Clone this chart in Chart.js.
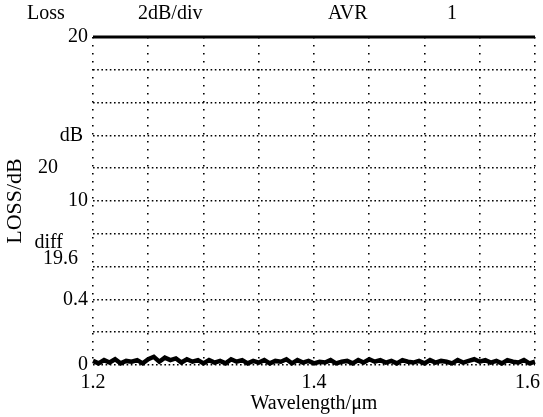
<!DOCTYPE html>
<html>
<head>
<meta charset="utf-8">
<script src="https://cdn.jsdelivr.net/npm/chart.js@4"></script>
<style>
  html, body { margin: 0; padding: 0; background: #fff; }
  #wrap { width: 543px; height: 417px; }
</style>
</head>
<body>
<div id="wrap"><canvas id="c" width="543" height="417"></canvas></div>
<script>
// wavelength samples (um) and the measured loss (dB) at each one
const wavelengths = [
  1.200, 1.205, 1.210, 1.215, 1.220, 1.225, 1.230, 1.235, 1.240, 1.245,
  1.250, 1.255, 1.260, 1.265, 1.270, 1.275, 1.280, 1.285, 1.290, 1.295,
  1.300, 1.305, 1.310, 1.315, 1.320, 1.325, 1.330, 1.335, 1.340, 1.345,
  1.350, 1.355, 1.360, 1.365, 1.370, 1.375, 1.380, 1.385, 1.390, 1.395,
  1.400, 1.405, 1.410, 1.415, 1.420, 1.425, 1.430, 1.435, 1.440, 1.445,
  1.450, 1.455, 1.460, 1.465, 1.470, 1.475, 1.480, 1.485, 1.490, 1.495,
  1.500, 1.505, 1.510, 1.515, 1.520, 1.525, 1.530, 1.535, 1.540, 1.545,
  1.550, 1.555, 1.560, 1.565, 1.570, 1.575, 1.580, 1.585, 1.590, 1.595,
  1.600
];
const lossTrace = [
  0.25, 0.10, 0.30, 0.15, 0.35, 0.10, 0.25, 0.20, 0.30, 0.10,
  0.35, 0.50, 0.20, 0.45, 0.30, 0.40, 0.15, 0.35, 0.20, 0.30,
  0.10, 0.30, 0.15, 0.25, 0.10, 0.35, 0.20, 0.30, 0.10, 0.25,
  0.15, 0.30, 0.10, 0.25, 0.20, 0.35, 0.10, 0.30, 0.15, 0.25,
  0.10, 0.20, 0.15, 0.30, 0.10, 0.20, 0.25, 0.10, 0.30, 0.15,
  0.35, 0.20, 0.30, 0.15, 0.25, 0.10, 0.30, 0.20, 0.15, 0.25,
  0.10, 0.30, 0.15, 0.25, 0.20, 0.10, 0.30, 0.15, 0.25, 0.35,
  0.20, 0.30, 0.15, 0.25, 0.10, 0.30, 0.20, 0.15, 0.30, 0.10,
  0.20
];
// reference trace pinned at the top of the screen
const refWavelengths = [1.2, 1.6];
const refLevel = [20, 20];

const xTickLabels = { 1.2: '1.2', 1.4: '1.4', 1.6: '1.6' };
// screen annotations read along the left edge (value -> text)
const yTickValues = [0, 2, 4, 6, 6.45, 7.45, 8, 10, 12, 14, 16, 18, 20];
const yTickText = { 0: '0', 4: '0.4', 6.45: '19.6', 7.45: 'diff', 10: '10', 12: '20', 14: 'dB', 20: '20' };
const headerTexts = ['Loss', '2dB/div', 'AVR', '1'];

const FONT = "'Liberation Serif', 'Times New Roman', serif";

// some labels on the scan sit further left than the others
const yIndent = { 12: 6, 7.45: 5, 6.45: 2, 14: 1 };
// last x label is pulled in so it stays on the page
const xIndent = { 1.6: 3 };

const headerPlugin = {
  id: 'header',
  afterDraw(chart) {
    const ctx = chart.ctx;
    const xs = [27, 138, 328, 447];
    ctx.save();
    ctx.fillStyle = '#000';
    ctx.font = '20px ' + FONT;
    ctx.textBaseline = 'middle';
    ctx.textAlign = 'left';
    headerTexts.forEach((t, i) => ctx.fillText(t, xs[i], 14));
    ctx.restore();
  }
};

new Chart(document.getElementById('c'), {
  type: 'line',
  data: {
    datasets: [
      {
        label: 'Loss',
        data: wavelengths.map((w, i) => ({ x: w, y: lossTrace[i] })),
        borderColor: '#000',
        borderWidth: 4.5,
        pointRadius: 0,
        tension: 0,
        clip: 6,
      },
      {
        label: 'Ref',
        data: refWavelengths.map((w, i) => ({ x: w, y: refLevel[i] })),
        borderColor: '#000',
        borderWidth: 3,
        pointRadius: 0,
        clip: 6,
      },
    ],
  },
  options: {
    responsive: false,
    animation: false,
    layout: { padding: { top: 37, right: 8, left: 0, bottom: 0 } },
    plugins: { legend: { display: false }, tooltip: { enabled: false } },
    scales: {
      x: {
        type: 'linear',
        min: 1.2,
        max: 1.6,
        afterBuildTicks: (scale) => {
          scale.ticks = wavelengths.filter((w, i) => i % 10 === 0).map(v => ({ value: v }));
        },
        afterFit: (scale) => {
          scale.height = 52;
          scale.paddingLeft = 0;
          scale.paddingRight = 0;
        },
        grid: { color: '#000', lineWidth: 1.6, drawTicks: false },
        border: { display: false, dash: [1.6, 6.4] },
        ticks: {
          color: '#000',
          padding: 6,
          maxRotation: 0,
          autoSkip: false,
          font: { family: FONT, size: 20 },
          callback: (v) => {
            const key = Math.round(v * 100) / 100;
            const t = xTickLabels[key];
            return t ? t + ' '.repeat(xIndent[key] || 0) : '';
          },
        },
        title: {
          display: true,
          text: 'Wavelength/\u03bcm',
          color: '#000',
          font: { family: FONT, size: 20 },
          padding: { top: 0, bottom: 1 },
        },
      },
      y: {
        min: 0,
        max: 20,
        afterBuildTicks: (scale) => {
          scale.ticks = yTickValues.map(v => ({ value: v }));
        },
        afterFit: (scale) => { scale.width = 93; },
        grid: {
          lineWidth: 1.6,
          drawTicks: false,
          color: (c) => (c.tick && c.tick.value % 2 === 0 && c.tick.value !== 20) ? '#000' : 'rgba(0,0,0,0)',
        },
        border: { display: false, dash: [1.6, 2.6] },
        ticks: {
          color: '#000',
          padding: 5,
          autoSkip: false,
          font: { family: FONT, size: 20 },
          callback: (v) => {
            const t = yTickText[v];
            if (!t) return '';
            return t + ' '.repeat(yIndent[v] || 0);
          },
        },
        title: {
          display: true,
          text: 'LOSS/dB',
          color: '#000',
          font: { family: FONT, size: 22 },
          padding: { top: 2, bottom: 0 },
        },
      },
    },
  },
  plugins: [headerPlugin],
});
</script>
</body>
</html>
